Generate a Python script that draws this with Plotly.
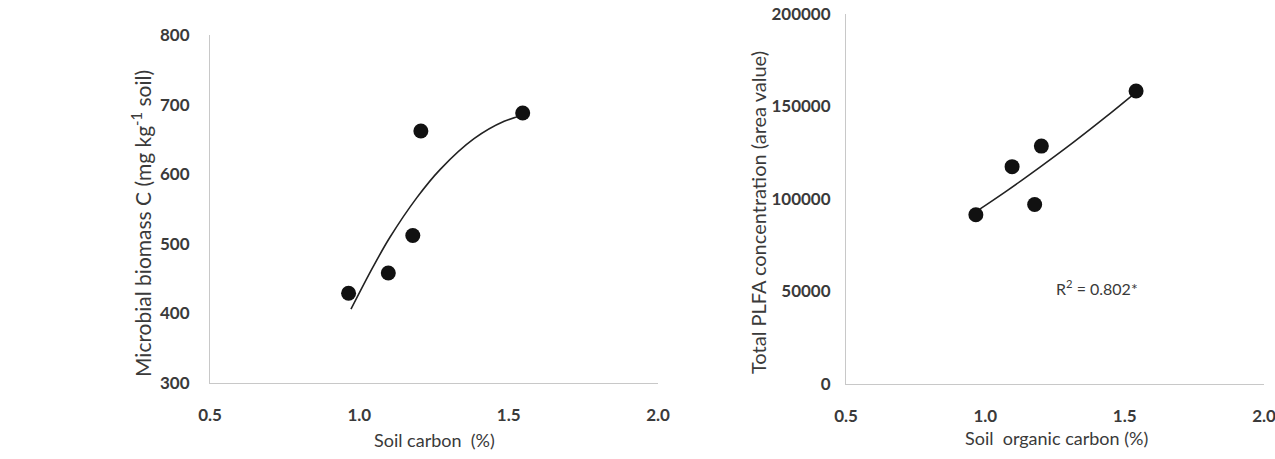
import plotly.graph_objects as go

# Left panel: soil carbon vs microbial biomass C
soil_c = [0.964, 1.097, 1.179, 1.206, 1.547]
mbc = [429, 458, 512, 662, 688]
# Trendline
trend1_x = [0.972, 1.045, 1.102, 1.192, 1.271, 1.384, 1.485, 1.553]
trend1_y = [406, 466, 509, 566, 607, 651, 676, 685]

# Right panel: soil organic carbon vs total PLFA
soc = [0.966, 1.096, 1.177, 1.201, 1.541]
plfa = [91500, 117500, 97000, 128600, 158400]
trend2_x = [0.972, 1.077, 1.195, 1.312, 1.430, 1.535]
trend2_y = [93700, 104400, 117100, 130200, 144100, 157000]

x_ticks = [0.5, 1.0, 1.5, 2.0]
x_tick_text = ["0.5", "1.0", "1.5", "2.0"]
y1_ticks = [300, 400, 500, 600, 700, 800]
y2_ticks = [0, 50000, 100000, 150000, 200000]
y2_tick_text = ["0", "50000", "100000", "150000", "200000"]

FONT = "Lato"
TICK_COLOR = "#3a3a3a"
AXIS_COLOR = "#c8c8c8"

fig = go.Figure()

fig.add_trace(go.Scatter(x=trend1_x, y=trend1_y, mode="lines", line=dict(color="#222222", width=1.6, shape="spline", smoothing=1.0),
                         xaxis="x", yaxis="y", showlegend=False, hoverinfo="skip"))
fig.add_trace(go.Scatter(x=soil_c, y=mbc, mode="markers", marker=dict(color="#111111", size=15),
                         xaxis="x", yaxis="y", showlegend=False))
fig.add_trace(go.Scatter(x=trend2_x, y=trend2_y, mode="lines", line=dict(color="#222222", width=1.6, shape="spline", smoothing=1.0),
                         xaxis="x2", yaxis="y2", showlegend=False, hoverinfo="skip"))
fig.add_trace(go.Scatter(x=soc, y=plfa, mode="markers", marker=dict(color="#111111", size=15),
                         xaxis="x2", yaxis="y2", showlegend=False))

W, H = 1275, 459

def xdom(a, b):
    return [a / W, b / W]

def ydom(top, bottom):
    return [1 - bottom / H, 1 - top / H]

tickfont = dict(family=FONT, size=17, color=TICK_COLOR, weight="bold")
common_x = dict(range=[0.5, 2.0], tickvals=x_ticks, ticktext=x_tick_text, showgrid=False, zeroline=False,
                showline=True, linecolor=AXIS_COLOR, linewidth=1, ticks="", ticklabelstandoff=17,
                automargin=False, ticklabeloverflow="allow", tickfont=tickfont)
common_y = dict(showgrid=False, zeroline=False, showline=True, linecolor=AXIS_COLOR, linewidth=1, ticks="",
                automargin=False, ticklabeloverflow="allow", tickfont=tickfont)

title_font = dict(family=FONT, size=18, color=TICK_COLOR)

fig.update_layout(
    width=W, height=H,
    margin=dict(l=0, r=0, t=0, b=0, autoexpand=False),
    paper_bgcolor="white", plot_bgcolor="white",
    xaxis=dict(domain=xdom(210, 658), anchor="y", **common_x),
    yaxis=dict(domain=ydom(35, 383), anchor="x", range=[300, 800], tickvals=y1_ticks, ticklabelstandoff=16, **common_y),
    xaxis2=dict(domain=xdom(846, 1264), anchor="y2", **common_x),
    yaxis2=dict(domain=ydom(14, 384), anchor="x2", range=[0, 200000], tickvals=y2_ticks, ticktext=y2_tick_text,
                ticklabelstandoff=11, **common_y),
    annotations=[
        dict(text="Soil carbon  (%)", x=434 / W, y=1 - 440 / H, xref="paper", yref="paper", showarrow=False,
             xanchor="center", yanchor="middle", font=title_font),
        dict(text="Soil  organic carbon (%)", x=1056 / W, y=1 - 438 / H, xref="paper", yref="paper", showarrow=False,
             xanchor="center", yanchor="middle", font=title_font),
        dict(text="Microbial biomass C (mg kg<sup>-1</sup> soil)", x=141 / W, y=1 - 224 / H, xref="paper", yref="paper",
             showarrow=False, textangle=-90, xanchor="center", yanchor="middle",
             font=dict(family=FONT, size=21, color=TICK_COLOR)),
        dict(text="Total PLFA concentration (area value)", x=758 / W, y=1 - 213 / H, xref="paper", yref="paper",
             showarrow=False, textangle=-90, xanchor="center", yanchor="middle",
             font=dict(family=FONT, size=20, color=TICK_COLOR)),
        dict(text="R<sup>2</sup> = 0.802*", x=1.40, y=51900, xref="x2", yref="y2", showarrow=False,
             xanchor="center", yanchor="middle", font=dict(family=FONT, size=16, color=TICK_COLOR)),
    ],
)

fig.write_html("out.html")
